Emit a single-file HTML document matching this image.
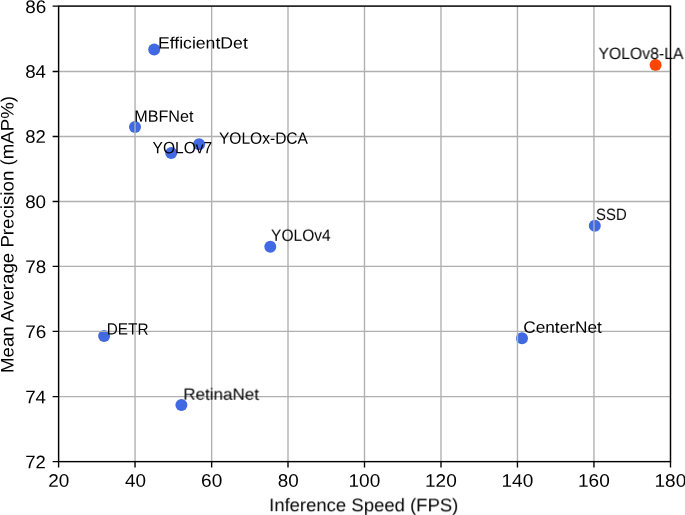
<!DOCTYPE html>
<html><head><meta charset="utf-8"><title>Inference Speed vs mAP</title>
<style>html,body{margin:0;padding:0;background:#fff;width:685px;height:515px;overflow:hidden}svg{display:block}text{font-family:"Liberation Sans",sans-serif}</style>
</head><body>
<svg width="685" height="515" viewBox="0 0 685 515"><rect width="685" height="515" fill="#fff"/>
<circle cx="154.2" cy="49.55" r="6.0" fill="#4169e1"/>
<circle cx="135.0" cy="126.95" r="6.0" fill="#4169e1"/>
<circle cx="171.2" cy="153.05" r="6.0" fill="#4169e1"/>
<circle cx="199.1" cy="144.2" r="6.0" fill="#4169e1"/>
<circle cx="270.3" cy="246.65" r="6.0" fill="#4169e1"/>
<circle cx="104.1" cy="335.9" r="6.0" fill="#4169e1"/>
<circle cx="181.4" cy="404.9" r="6.0" fill="#4169e1"/>
<circle cx="522.0" cy="338.3" r="6.0" fill="#4169e1"/>
<circle cx="594.8" cy="225.8" r="6.0" fill="#4169e1"/>
<circle cx="655.6" cy="64.95" r="6.0" fill="#ff4500"/>
<path d="M58.60 6.10V461.60M135.05 6.10V461.60M211.65 6.10V461.60M288.00 6.10V461.60M364.50 6.10V461.60M441.00 6.10V461.60M517.45 6.10V461.60M593.95 6.10V461.60M670.50 6.10V461.60M58.60 461.60H670.50M58.60 396.60H670.50M58.60 331.40H670.50M58.60 266.40H670.50M58.60 201.45H670.50M58.60 136.45H670.50M58.60 71.50H670.50M58.60 6.10H670.50" stroke="#b0b0b0" stroke-width="1.37" fill="none"/>
<path d="M58.60 461.60v6.0M135.05 461.60v6.0M211.65 461.60v6.0M288.00 461.60v6.0M364.50 461.60v6.0M441.00 461.60v6.0M517.45 461.60v6.0M593.95 461.60v6.0M670.50 461.60v6.0M58.60 461.60h-6.0M58.60 396.60h-6.0M58.60 331.40h-6.0M58.60 266.40h-6.0M58.60 201.45h-6.0M58.60 136.45h-6.0M58.60 71.50h-6.0M58.60 6.10h-6.0" stroke="#000" stroke-width="1.37" fill="none"/>
<rect x="58.6" y="6.1" width="611.90" height="455.50" stroke="#000" stroke-width="1.37" fill="none" stroke-linecap="square"/>
<g font-family="Liberation Sans, sans-serif" fill="#000" opacity="0.999" text-rendering="geometricPrecision"><text transform="translate(157.89 48.40) rotate(0.05) scale(1.0795 1)" font-size="16.35">EfficientDet</text><text transform="translate(134.21 121.80) rotate(0.05) scale(0.9895 1)" font-size="16.35">MBFNet</text><text transform="translate(152.61 153.20) rotate(0.05) scale(0.9502 1)" font-size="16.35">YOLOv7</text><text transform="translate(219.01 143.70) rotate(0.05) scale(0.9507 1)" font-size="16.35">YOLOx-DCA</text><text transform="translate(270.96 240.80) rotate(0.05) scale(0.9533 1)" font-size="16.35">YOLOv4</text><text transform="translate(106.77 334.60) rotate(0.05) scale(0.9378 1)" font-size="16.35">DETR</text><text transform="translate(183.34 399.70) rotate(0.05) scale(1.0412 1)" font-size="16.35">RetinaNet</text><text transform="translate(523.24 332.80) rotate(0.05) scale(1.0550 1)" font-size="16.35">CenterNet</text><text transform="translate(595.93 219.90) rotate(0.05) scale(0.9154 1)" font-size="16.35">SSD</text><text transform="translate(598.46 59.00) rotate(0.05) scale(0.9656 1)" font-size="16.35">YOLOv8-LA</text><text transform="translate(48.15 486.70) rotate(0.05) scale(1.0421 1)" font-size="18.16">20</text><text transform="translate(124.92 486.70) rotate(0.05) scale(1.0383 1)" font-size="18.16">40</text><text transform="translate(201.07 486.70) rotate(0.05) scale(1.0475 1)" font-size="18.16">60</text><text transform="translate(277.71 486.70) rotate(0.05) scale(1.0371 1)" font-size="18.16">80</text><text transform="translate(348.52 486.70) rotate(0.05) scale(1.0481 1)" font-size="18.16">100</text><text transform="translate(425.01 486.70) rotate(0.05) scale(1.0481 1)" font-size="18.16">120</text><text transform="translate(501.50 486.70) rotate(0.05) scale(1.0481 1)" font-size="18.16">140</text><text transform="translate(577.98 486.70) rotate(0.05) scale(1.0481 1)" font-size="18.16">160</text><text transform="translate(654.47 486.70) rotate(0.05) scale(1.0481 1)" font-size="18.16">180</text><text transform="translate(25.17 468.20) rotate(0.05) scale(1.0195 1)" font-size="18.16">72</text><text transform="translate(25.16 403.13) rotate(0.05) scale(1.0321 1)" font-size="18.16">74</text><text transform="translate(25.15 338.06) rotate(0.05) scale(1.0419 1)" font-size="18.16">76</text><text transform="translate(25.16 272.99) rotate(0.05) scale(1.0365 1)" font-size="18.16">78</text><text transform="translate(25.15 207.91) rotate(0.05) scale(1.0371 1)" font-size="18.16">80</text><text transform="translate(25.17 142.84) rotate(0.05) scale(1.0199 1)" font-size="18.16">82</text><text transform="translate(25.16 77.77) rotate(0.05) scale(1.0324 1)" font-size="18.16">84</text><text transform="translate(25.15 12.90) rotate(0.05) scale(1.0421 1)" font-size="18.16">86</text><text transform="translate(269.13 511.20) rotate(0.05) scale(1.0193 1)" font-size="18.16">Inference Speed (FPS)</text><text transform="translate(13.40 373.00) rotate(-89.95) scale(1.0296 1)" font-size="18.16">Mean Average Precision (mAP%)</text></g></svg>
</body></html>
